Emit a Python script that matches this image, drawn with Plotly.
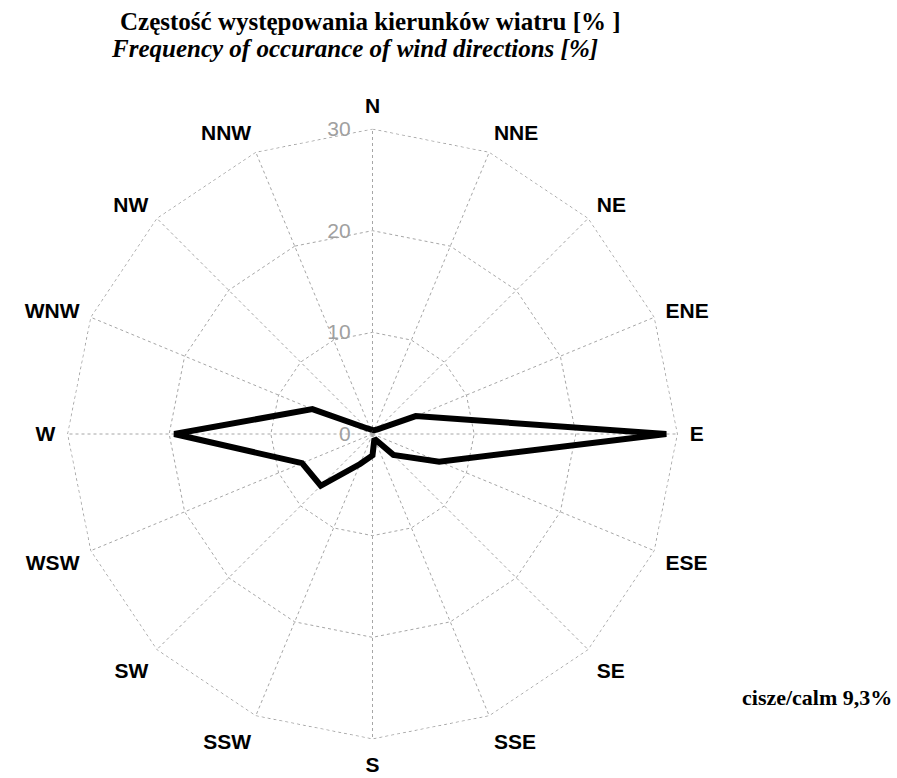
import plotly.graph_objects as go

directions = ["N", "NNE", "NE", "ENE", "E", "ESE", "SE", "SSE",
              "S", "SSW", "SW", "WSW", "W", "WNW", "NW", "NNW"]
frequency = [0.4, 0.4, 0.6, 4.6, 28.9, 7.1, 2.9, 0.5,
             2.1, 3.2, 7.2, 7.5, 19.5, 6.4, 0.8, 0.5]
radial_ticks = [0, 10, 20, 30]
title_pl = "Częstość występowania kierunków wiatru [% ]"
title_en = "Frequency of occurance of wind directions [%]"
calm_text = "cisze/calm 9,3%"

W, H = 897, 778
L, R, T, B = 67, 219, 128, 38
pw, ph = W - L - R, H - T - B

def px2paper(px, py):
    return (px - L) / pw, 1 - (py - T) / ph

grid = "#a6a6a6"
fig = go.Figure()
# outer grid ring (dotted) at the maximum radial tick
fig.add_trace(go.Scatterpolar(
    r=[max(radial_ticks)] * (len(directions) + 1),
    theta=directions + directions[:1],
    mode="lines",
    line=dict(color=grid, width=1, dash="dot"),
    showlegend=False, hoverinfo="skip",
))
fig.add_trace(go.Scatterpolar(
    r=frequency + frequency[:1],
    theta=directions + directions[:1],
    mode="lines",
    line=dict(color="black", width=6),
    showlegend=False,
    hoverinfo="skip",
))

fig.update_layout(
    width=W, height=H,
    paper_bgcolor="white",
    margin=dict(l=L, r=R, t=T, b=B),
    polar=dict(
        bgcolor="white",
        gridshape="linear",
        radialaxis=dict(
            range=[0, 30.05], tickvals=radial_ticks,
            angle=90, tickangle=90, side="counterclockwise",
            showline=False, ticks="outside", ticklen=14, tickcolor="rgba(0,0,0,0)",
            gridcolor=grid, griddash="dot", gridwidth=1,
            tickfont=dict(family="Liberation Sans", size=21, color="#a0a0a0"),
        ),
        angularaxis=dict(
            type="category", categoryarray=directions,
            direction="clockwise", rotation=90,
            showline=False,
            gridcolor=grid, griddash="dot", gridwidth=1,
            ticks="outside", ticklen=7, tickcolor="rgba(0,0,0,0)",
            tickfont=dict(family="Liberation Sans", size=21, color="black", weight="bold"),
        ),
    ),
)

anns = []
for text, (x, y), st in [
    (title_pl, (370, 22), dict(family="Liberation Serif", size=25, color="black", weight="bold")),
    (title_en, (354, 48), dict(family="Liberation Serif", size=25, color="black", weight="bold", style="italic")),
    (calm_text, (817, 697), dict(family="Liberation Serif", size=22, color="black", weight="bold")),
]:
    ax, ay = px2paper(x, y)
    anns.append(dict(text=text, xref="paper", yref="paper", x=ax, y=ay,
                     xanchor="center", yanchor="middle", showarrow=False, font=st))
fig.update_layout(annotations=anns)

fig.write_html("out.html", config={"displayModeBar": False},
               post_script="document.body.style.margin='0';")
